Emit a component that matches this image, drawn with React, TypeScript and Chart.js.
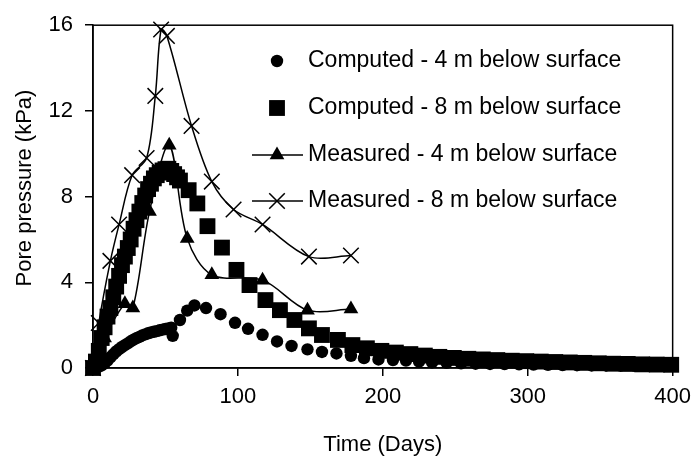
import React, { useEffect, useRef } from "react";
import { Chart, registerables } from "chart.js";

Chart.register(...registerables);

const FONT = "'Liberation Sans', Arial, Helvetica, sans-serif";

// ---- Data ----
const seriesLabels = [
  "Computed - 4 m below surface",
  "Computed - 8 m below surface",
  "Measured - 4 m below surface",
  "Measured - 8 m below surface",
];

const computed4Days = [
  0, 2, 4, 6, 8, 10, 12, 14, 16, 18, 20, 22, 24, 26, 28, 30, 32, 34, 36, 38, 40, 42, 44, 46, 48, 50, 52, 54,
  55, 60, 65, 70, 78, 88, 98, 107, 117, 127, 137, 148, 158, 168, 178, 187, 197, 207, 216, 225, 234, 244,
  254, 264, 274, 284, 294, 304, 314, 324, 334, 344, 354, 364, 374, 384, 394, 400,
];
const computed4Pressure = [
  0, 0.02, 0.06, 0.12, 0.22, 0.35, 0.5, 0.64, 0.77, 0.88, 0.98, 1.07, 1.15, 1.24, 1.32, 1.39, 1.45, 1.52,
  1.57, 1.62, 1.66, 1.69, 1.72, 1.76, 1.79, 1.82, 1.85, 1.88, 1.5, 2.24, 2.68, 2.92, 2.8, 2.51, 2.11, 1.83,
  1.55, 1.24, 1.03, 0.87, 0.75, 0.68, 0.57, 0.46, 0.4, 0.37, 0.35, 0.3, 0.26, 0.24, 0.22, 0.2, 0.19, 0.18,
  0.17, 0.16, 0.15, 0.14, 0.13, 0.12, 0.12, 0.11, 0.1, 0.1, 0.1, 0.1,
];

const computed8Days = [
  0, 2, 4, 6, 8, 10, 12, 14, 16, 18, 20, 22, 24, 26, 28, 30, 32, 34, 36, 38, 40, 42, 44, 46, 48, 50, 52, 54,
  56, 58, 60, 66, 72, 79, 89, 99, 108, 119, 129, 139, 149, 158, 169, 179, 189, 199, 209, 219, 229, 239, 249,
  259, 269, 279, 289, 299, 309, 319, 329, 339, 349, 359, 369, 379, 389, 399,
];
const computed8Pressure = [
  0, 0.3, 0.8, 1.4, 1.9, 2.4, 2.8, 3.3, 3.8, 4.3, 4.8, 5.2, 5.6, 6.0, 6.5, 6.9, 7.3, 7.7, 8.05, 8.35, 8.6,
  8.85, 9.0, 9.12, 9.22, 9.28, 9.3, 9.2, 9.05, 8.9, 8.75, 8.3, 7.68, 6.62, 5.62, 4.58, 3.87, 3.17, 2.7, 2.24,
  1.85, 1.54, 1.31, 1.07, 0.92, 0.8, 0.72, 0.65, 0.58, 0.52, 0.47, 0.43, 0.4, 0.37, 0.34, 0.32, 0.3, 0.28,
  0.26, 0.24, 0.22, 0.2, 0.19, 0.17, 0.16, 0.15,
];

const measured4Days = [0, 8, 22, 27.5, 39, 52.6, 65, 82, 117, 148, 178];
const measured4Pressure = [0, 1.4, 3.0, 2.8, 7.3, 10.4, 6.05, 4.35, 4.1, 2.7, 2.75];

const measured8Days = [0, 4, 12, 18, 27, 37, 43, 47, 51, 68, 82, 97, 117, 149, 178];
const measured8Pressure = [0, 2.1, 5.0, 6.7, 9.0, 9.8, 12.7, 15.8, 15.5, 11.3, 8.7, 7.4, 6.7, 5.2, 5.25];

const xMin = 0;
const xMax = 400;
const xStep = 100;
const yMin = 0;
const yMax = 16;
const yStep = 4;

const xTitle = "Time (Days)";
const yTitle = "Pore pressure (kPa)";

function toPoints(xs: number[], ys: number[]) {
  return xs.map((x, i) => ({ x, y: ys[i] }));
}

// ---- Marker sizes ----
const CIRCLE_R = 6.2;
const RECT_R = 11.2;
const TRI_R = 8.5;
const CROSS_R = 11;

function drawMarker(ctx: CanvasRenderingContext2D, kind: string, x: number, y: number) {
  ctx.save();
  ctx.fillStyle = "#000";
  ctx.strokeStyle = "#000";
  ctx.beginPath();
  if (kind === "circle") {
    ctx.arc(x, y, CIRCLE_R, 0, Math.PI * 2);
    ctx.fill();
  } else if (kind === "rect") {
    const s = RECT_R * Math.SQRT1_2;
    ctx.rect(x - s, y - s, 2 * s, 2 * s);
    ctx.fill();
  } else if (kind === "triangle") {
    const r = TRI_R;
    ctx.moveTo(x, y - r);
    ctx.lineTo(x + Math.sin((2 * Math.PI) / 3) * r, y + 0.5 * r);
    ctx.lineTo(x - Math.sin((2 * Math.PI) / 3) * r, y + 0.5 * r);
    ctx.closePath();
    ctx.fill();
  } else if (kind === "crossRot") {
    const o = CROSS_R * Math.SQRT1_2;
    ctx.lineWidth = 1.5;
    ctx.moveTo(x - o, y - o);
    ctx.lineTo(x + o, y + o);
    ctx.moveTo(x - o, y + o);
    ctx.lineTo(x + o, y - o);
    ctx.stroke();
  }
  ctx.restore();
}

const legendPlugin = {
  id: "insideLegend",
  afterDatasetsDraw(chart: any) {
    const ctx: CanvasRenderingContext2D = chart.ctx;
    const markerX = 277;
    const textX = 308;
    const rows = [61, 108, 155, 201];
    const kinds = ["circle", "rect", "triangle", "crossRot"];
    const withLine = [false, false, true, true];
    ctx.save();
    ctx.font = `23px ${FONT}`;
    ctx.textBaseline = "middle";
    ctx.textAlign = "left";
    ctx.fillStyle = "#000";
    rows.forEach((ry, i) => {
      if (withLine[i]) {
        ctx.beginPath();
        ctx.strokeStyle = "#000";
        ctx.lineWidth = 1.5;
        ctx.moveTo(252, ry);
        ctx.lineTo(303, ry);
        ctx.stroke();
      }
      drawMarker(ctx, kinds[i], markerX, ry);
      ctx.fillText(seriesLabels[i], textX, ry);
    });
    ctx.restore();
  },
};

const framePlugin = {
  id: "plotFrame",
  beforeDatasetsDraw(chart: any) {
    const { ctx, chartArea } = chart;
    ctx.save();
    ctx.strokeStyle = "#000";
    ctx.lineWidth = 1.5;
    ctx.strokeRect(chartArea.left, chartArea.top, chartArea.right - chartArea.left, chartArea.bottom - chartArea.top);
    ctx.restore();
  },
};

const yTitlePlugin = {
  id: "yTitleText",
  afterDraw(chart: any) {
    const ctx: CanvasRenderingContext2D = chart.ctx;
    ctx.save();
    ctx.translate(25, 188);
    ctx.rotate(-Math.PI / 2);
    ctx.font = `22px ${FONT}`;
    ctx.fillStyle = "#000";
    ctx.textAlign = "center";
    ctx.textBaseline = "middle";
    ctx.fillText(yTitle, 0, 0);
    ctx.restore();
  },
};

export default function App() {
  const canvasRef = useRef<HTMLCanvasElement | null>(null);

  useEffect(() => {
    if (!canvasRef.current) return;
    const chart = new Chart(canvasRef.current, {
      type: "scatter",
      data: {
        datasets: [
          {
            label: seriesLabels[0],
            data: toPoints(computed4Days, computed4Pressure),
            showLine: false,
            pointStyle: "circle",
            pointRadius: CIRCLE_R,
            pointBackgroundColor: "#000",
            pointBorderColor: "#000",
            pointBorderWidth: 0,
            order: 4,
            clip: false,
          },
          {
            label: seriesLabels[1],
            data: toPoints(computed8Days, computed8Pressure),
            showLine: false,
            pointStyle: "rect",
            pointRadius: RECT_R,
            pointBackgroundColor: "#000",
            pointBorderColor: "#000",
            pointBorderWidth: 0,
            order: 3,
            clip: false,
          },
          {
            label: seriesLabels[2],
            data: toPoints(measured4Days, measured4Pressure),
            showLine: true,
            tension: 0.33,
            borderColor: "#000",
            borderWidth: 1.5,
            pointStyle: "triangle",
            pointRadius: TRI_R,
            pointBackgroundColor: "#000",
            pointBorderColor: "#000",
            pointBorderWidth: 0,
            order: 2,
            clip: false,
          },
          {
            label: seriesLabels[3],
            data: toPoints(measured8Days, measured8Pressure),
            showLine: true,
            tension: 0.33,
            borderColor: "#000",
            borderWidth: 1.5,
            pointStyle: "crossRot",
            pointRadius: CROSS_R,
            pointBackgroundColor: "#000",
            pointBorderColor: "#000",
            pointBorderWidth: 1.5,
            order: 1,
            clip: false,
          },
        ],
      },
      options: {
        responsive: false,
        animation: false,
        devicePixelRatio: 1,
        events: [],
        layout: { padding: { left: 0, top: 25, right: 20, bottom: 0 } },
        plugins: {
          legend: { display: false },
          tooltip: { enabled: false },
          title: { display: false },
        },
        scales: {
          x: {
            type: "linear",
            position: "bottom",
            min: xMin,
            max: xMax,
            afterFit: (s: any) => {
              s.height = 94;
            },
            ticks: {
              stepSize: xStep,
              color: "#000",
              padding: 8,
              font: { family: FONT, size: 22 },
              maxRotation: 0,
            },
            grid: { display: true, drawOnChartArea: false, drawTicks: true, tickLength: 8, color: "#000", lineWidth: 1.5 },
            border: { display: true, color: "#000", width: 1.5 },
            title: {
              display: true,
              text: xTitle,
              color: "#000",
              font: { family: FONT, size: 22 },
              padding: { top: 0, bottom: 4 },
            },
          },
          y: {
            type: "linear",
            position: "left",
            min: yMin,
            max: yMax,
            afterFit: (s: any) => {
              s.width = 93;
            },
            ticks: {
              stepSize: yStep,
              color: "#000",
              padding: 12,
              font: { family: FONT, size: 22 },
            },
            grid: { display: true, drawOnChartArea: false, drawTicks: true, tickLength: 8, color: "#000", lineWidth: 1.5 },
            border: { display: true, color: "#000", width: 1.5 },
            title: { display: false },
          },
        },
      },
      plugins: [framePlugin, legendPlugin, yTitlePlugin],
    });
    return () => chart.destroy();
  }, []);

  return (
    <div style={{ position: "absolute", left: 0, top: 0, width: 699, height: 462, background: "#fff" }}>
      <canvas ref={canvasRef} width={699} height={462} style={{ display: "block" }} />
    </div>
  );
}
